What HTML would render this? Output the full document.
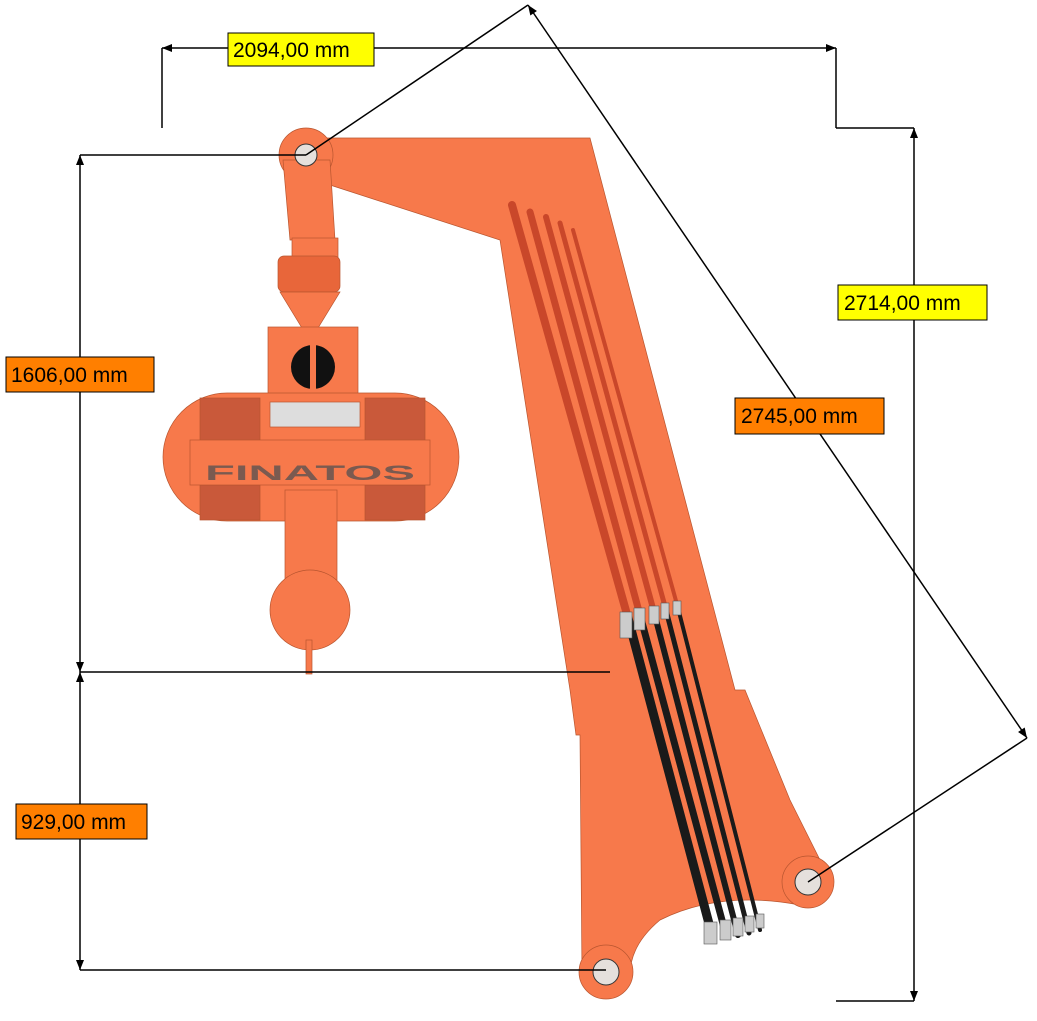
<!DOCTYPE html>
<html><head><meta charset="utf-8"><style>
html,body{margin:0;padding:0;background:#fff;}
svg{display:block;}
text{font-family:"Liberation Sans",sans-serif;font-size:21px;}
</style></head><body>
<svg width="1037" height="1021" viewBox="0 0 1037 1021" xmlns="http://www.w3.org/2000/svg">
<defs>
<marker id="ar" viewBox="0 0 10 10" refX="10" refY="5" markerWidth="14" markerHeight="10" orient="auto-start-reverse" markerUnits="userSpaceOnUse"><path d="M0,1 L10,5 L0,9 z" fill="#000"/></marker>
</defs>
<g fill="#f7794b" stroke="#b8552f" stroke-width="0.7">
<!-- boom -->
<path d="M310,138 L590,138 L735,690 L745,690 L790,800 L830,880 A26,26 0 0 1 800,905 Q720,890 660,920 Q630,945 630,975 A26,26 0 0 1 582,975 L580,735 L576,735 L570,690 L500,240 L330,185 L310,180 Z"/>
<circle cx="808" cy="882" r="26"/>
<circle cx="606" cy="972" r="27"/>
<!-- hanger -->
<circle cx="306" cy="155" r="27"/>
<path d="M283,160 L330,160 L335,240 L290,240 Z"/>
<rect x="292" y="238" width="46" height="20"/>
<rect x="278" y="256" width="62" height="36" rx="6" fill="#e8663a"/>
<path d="M280,292 L340,292 L318,328 L302,328 Z"/>
<rect x="268" y="327" width="90" height="68"/>
<!-- body -->
<rect x="163" y="393" width="296" height="128" rx="64"/>
<rect x="200" y="398" width="60" height="45" fill="#c9593a"/>
<rect x="365" y="398" width="60" height="45" fill="#c9593a"/>
<rect x="200" y="485" width="60" height="35" fill="#c9593a"/>
<rect x="365" y="485" width="60" height="35" fill="#c9593a"/>
<rect x="190" y="440" width="240" height="45" fill="#f7794b"/>
<rect x="270" y="402" width="90" height="25" fill="#ddd"/>
<rect x="285" y="490" width="52" height="105"/>
<circle cx="310" cy="610" r="40"/>
<rect x="306" y="640" width="6" height="34" />
</g>
<circle cx="313" cy="367" r="22" fill="#111"/>
<rect x="310" y="345" width="6" height="44" fill="#f7794b"/>
<text x="205" y="480" font-size="44" font-family="Liberation Serif" fill="#7a5a50" font-weight="bold" textLength="210" lengthAdjust="spacingAndGlyphs">FINATOS</text>
<!-- pins -->
<g fill="#e5e0dc" stroke="#333" stroke-width="1">
<circle cx="306" cy="155" r="11"/>
<circle cx="808" cy="882" r="13"/>
<circle cx="606" cy="972" r="13"/>
</g>
<!-- hoses -->
<g stroke-linecap="round">
<path d="M512,205 L628,618" stroke="#c9472a" stroke-width="8"/>
<path d="M530,212 L640,615" stroke="#c9472a" stroke-width="7"/>
<path d="M546,217 L654,612" stroke="#c9472a" stroke-width="6"/>
<path d="M560,223 L666,610" stroke="#c9472a" stroke-width="5"/>
<path d="M573,230 L678,608" stroke="#c9472a" stroke-width="4"/>
<path d="M628,618 L712,935" stroke="#1a1a1a" stroke-width="9"/>
<path d="M640,615 L726,935" stroke="#1a1a1a" stroke-width="7"/>
<path d="M654,612 L738,935" stroke="#1a1a1a" stroke-width="6"/>
<path d="M666,610 L749,933" stroke="#1a1a1a" stroke-width="5"/>
<path d="M678,608 L760,930" stroke="#1a1a1a" stroke-width="4"/>
</g>
<g fill="#ccc" stroke="#555" stroke-width="0.6">
<rect x="620" y="612" width="12" height="26"/><rect x="634" y="608" width="11" height="22"/><rect x="649" y="606" width="10" height="18"/><rect x="661" y="603" width="8" height="16"/><rect x="673" y="601" width="8" height="14"/>
<rect x="704" y="922" width="13" height="22"/><rect x="720" y="920" width="11" height="20"/><rect x="733" y="918" width="10" height="18"/><rect x="745" y="916" width="9" height="16"/><rect x="756" y="914" width="8" height="14"/>
</g>
<!-- dimension lines -->
<g stroke="#000" stroke-width="1.5" fill="none">
<line x1="162" y1="48" x2="836" y2="48" marker-start="url(#ar)" marker-end="url(#ar)"/>
<line x1="162" y1="48" x2="162" y2="128"/>
<line x1="836" y1="48" x2="836" y2="128"/>
<line x1="836" y1="128" x2="914" y2="128"/>
<line x1="836" y1="1001" x2="914" y2="1001"/>
<line x1="914" y1="128" x2="914" y2="1001" marker-start="url(#ar)" marker-end="url(#ar)"/>
<line x1="80" y1="155" x2="306" y2="155"/>
<line x1="80" y1="672" x2="610" y2="672"/>
<line x1="80" y1="970" x2="606" y2="970"/>
<line x1="80" y1="155" x2="80" y2="672" marker-start="url(#ar)" marker-end="url(#ar)"/>
<line x1="80" y1="672" x2="80" y2="970" marker-start="url(#ar)" marker-end="url(#ar)"/>
<line x1="306" y1="155" x2="528" y2="5"/>
<line x1="528" y1="5" x2="1027" y2="738" marker-start="url(#ar)" marker-end="url(#ar)"/>
<line x1="1027" y1="738" x2="808" y2="882"/>
</g>
<!-- labels -->
<g stroke="#000" stroke-width="1">
<rect x="228" y="33" width="146" height="33" fill="#ffff00"/>
<rect x="838" y="285" width="149" height="35" fill="#ffff00"/>
<rect x="6" y="357" width="148" height="35" fill="#ff7f00"/>
<rect x="735" y="398" width="149" height="36" fill="#ff7f00"/>
<rect x="16" y="804" width="131" height="35" fill="#ff7f00"/>
</g>
<text x="233" y="57">2094,00 mm</text>
<text x="844" y="310">2714,00 mm</text>
<text x="11" y="382">1606,00 mm</text>
<text x="741" y="423">2745,00 mm</text>
<text x="21" y="829">929,00 mm</text>
</svg>
</body></html>
